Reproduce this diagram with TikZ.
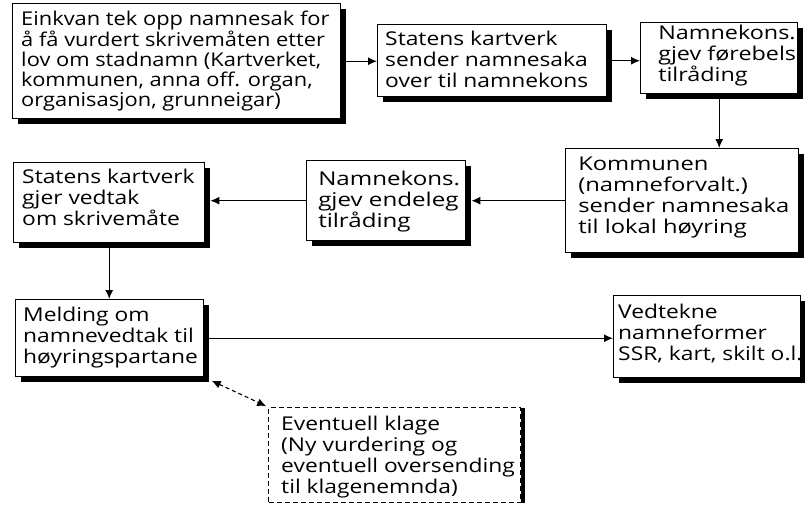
\documentclass[tikz,border=0pt]{standalone}
\usepackage{fontspec}
\setmainfont{Open Sans}
\usetikzlibrary{arrows.meta,calc,shadows}
\begin{document}
\begin{tikzpicture}[x=1pt,y=-1pt,
  box/.style={draw, line width=1.4pt, fill=white, inner sep=0pt, anchor=north west,
    drop shadow={shadow xshift=5pt, shadow yshift=-5pt, fill=black, opacity=1}},
  dbox/.style={draw, line width=1.1pt, dashed, dash pattern=on 5pt off 3pt, fill=white, inner sep=0pt, anchor=north west},
  txt/.style={anchor=north west, align=left, inner sep=0pt, transform shape, font=\fontsize{19}{21}\selectfont},
  wide/.style={xscale=1.2},
  arr/.style={line width=1.2pt, -{Latex[length=9pt,width=8pt]}},
  darr/.style={line width=1.1pt, dash pattern=on 4pt off 3pt, {Latex[length=9pt,width=8pt]}-{Latex[length=9pt,width=8pt]}}
]
\useasboundingbox (0,0) rectangle (805,507);
\fill[white] (0,0) rectangle (805,507);

\node[box, minimum width=328pt, minimum height=115pt] (b1) at (12,3) {};
\node[txt, xscale=1.15, font=\fontsize{19}{20}\selectfont] (t1) at ($(b1.north west)+(9,8)$) {Einkvan tek opp namnesak for\\å få vurdert skrivemåten etter\\lov om stadnamn (Kartverket,\\kommunen, anna off. organ,\\organisasjon, grunneigar)};

\node[box, minimum width=229pt, minimum height=72pt] (b2) at (377,24) {};
\node[txt, wide] (t2) at ($(b2.north west)+(8,7)$) {Statens kartverk\\sender namnesaka\\over til namnekons};

\node[box, minimum width=157pt, minimum height=71pt] (b3) at (640,22) {};
\node[txt, xscale=1.23] (t3) at ($(b3.north west)+(18,3)$) {Namnekons.\\gjev førebels\\tilråding};

\node[box, minimum width=233pt, minimum height=104pt] (b4) at (565,148) {};
\node[txt, xscale=1.25] (t4) at ($(b4.north west)+(13,9)$) {Kommunen\\(namneforvalt.)\\sender namnesaka\\til lokal høyring};

\node[box, minimum width=159pt, minimum height=80pt] (b5) at (306,160) {};
\node[txt, xscale=1.27] (t5) at ($(b5.north west)+(12,11)$) {Namnekons.\\gjev endeleg\\tilråding};

\node[box, minimum width=191pt, minimum height=80pt] (b6) at (13,162) {};
\node[txt, wide] (t6) at ($(b6.north west)+(9,7)$) {Statens kartverk\\gjer vedtak\\om skrivemåte};

\node[box, minimum width=188pt, minimum height=77pt] (b7) at (15,299) {};
\node[txt, wide] (t7) at ($(b7.north west)+(8,8)$) {Melding om\\namnevedtak til\\høyringspartane};

\node[box, minimum width=187pt, minimum height=82pt] (b8) at (613,295) {};
\node[txt, wide] (t8) at ($(b8.north west)+(5,9)$) {Vedtekne\\namneformer\\SSR, kart, skilt o.l.};

\node[dbox, minimum width=252pt, minimum height=95pt] (b9) at (268,407) {};
\draw[line width=4.5pt] ($(b9.north east)+(2,1)$) -- ($(b9.south east)+(2,0)$);
\node[txt, wide] (t9) at ($(b9.north west)+(13,9)$) {Eventuell klage\\(Ny vurdering og\\eventuell oversending\\til klagenemnda)};

\draw[arr, shorten <=5pt] (b1.east) -- (b1.east -| b2.west);
\draw[arr, shorten <=5pt] (b2.east) -- (b2.east -| b3.west);
\draw[arr, shorten <=5pt] (b3.south) -- (b3.south |- b4.north);
\draw[arr, shorten <=0pt, shorten >=5pt] (b4.west) -- (b4.west -| b5.east);
\draw[arr, shorten <=0pt, shorten >=5pt] (b5.west) -- (b5.west -| b6.east);
\draw[arr, shorten <=5pt] (b6.south) -- (b6.south |- b7.north);
\draw[arr, shorten <=5pt] (b7.east) -- (b7.east -| b8.west);
\draw[darr, shorten <=8pt, shorten >=2pt] (b7.south east) -- (b9.north west);
\end{tikzpicture}
\end{document}
